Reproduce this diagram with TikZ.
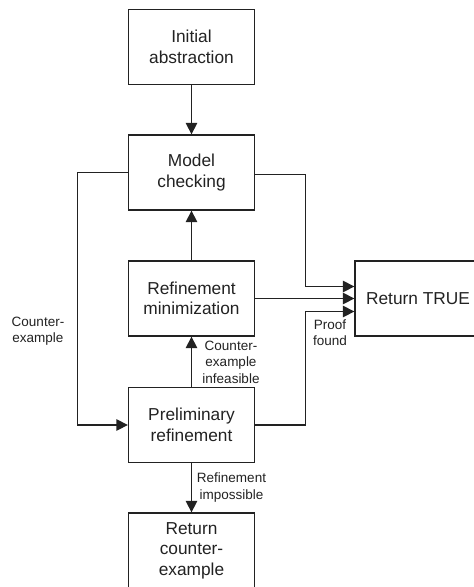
\documentclass[tikz,border=0pt]{standalone}
\usepackage{fontspec}
\setmainfont{Liberation Sans}
\usetikzlibrary{arrows.meta}
\definecolor{ink}{HTML}{222222}
\begin{document}
\begin{tikzpicture}[x=1pt,y=-1pt,
  box/.style={draw=ink, line width=1.3pt, minimum width=126pt, minimum height=75pt,
    align=center, inner sep=2pt, font=\fontsize{17.3}{20.5}\selectfont, text=ink},
  lbl/.style={align=center, inner sep=0pt, font=\fontsize{13.5}{16.5}\selectfont, text=ink},
  arr/.style={draw=ink, line width=1.3pt, -{Triangle[length=11.5pt,width=11.5pt]}},
  link/.style={draw=ink, line width=1.3pt}]
\useasboundingbox (0,0) rectangle (474,587);
\begin{scope}
\clip (0,0) rectangle (474,587);
% process boxes
\node[box] (init) at (191.5,47)  {Initial\\abstraction};
\node[box] (mc)   at (191.5,172.5) {Model\\checking};
\node[box] (rm)   at (191.5,298.5) {Refinement\\minimization};
\node[box] (pr)   at (191.5,425) {Preliminary\\refinement};
\node[box] (rce)  at (191.5,550.5) {Return\\counter-\\example};
\node[box] (rt)   at (418,298.5) {Return TRUE};
% main flow
\draw[arr] (init) -- (mc);
\draw[arr] (rm) -- (mc);
\draw[arr] (pr) -- (rm);
\draw[arr] (pr) -- (rce);
% counterexample loop back to refinement
\draw[arr] (mc.west) -- ++(-50.5,0) |- (pr.west);
% paths to success
\draw[arr] ([yshift=-2pt]mc.east) -- ++(50.5,0) |- ([yshift=12pt]rt.west);
\draw[arr] (rm.east) -- (rt.west);
\draw[arr] (pr.east) -- ++(50.5,0) |- ([yshift=-13pt]rt.west);
\end{scope}
% edge labels
\node[lbl] (lce)  at (38,331)    {Counter-\\example};
\node[lbl] (lcei) at (231,362)   {Counter-\\example\\infeasible};
\node[lbl] (lpf)  at (330,332.5) {Proof\\found};
\node[lbl] (lri)  at (231.5,487.5) {Refinement\\impossible};
\end{tikzpicture}
\end{document}
